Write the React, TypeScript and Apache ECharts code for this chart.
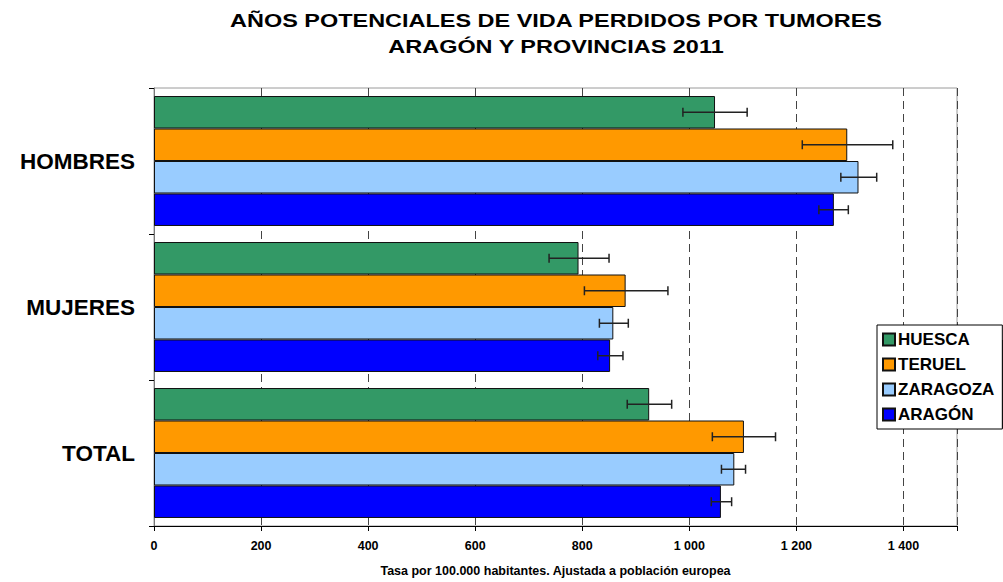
import React, { useEffect, useRef } from "react";
import * as echarts from "echarts";

const categories = ["HOMBRES", "MUJERES", "TOTAL"];
const seriesNames = ["HUESCA", "TERUEL", "ZARAGOZA", "ARAGÓN"];
const seriesColors = ["#339966", "#FF9900", "#99CCFF", "#0000FF"];

const huesca = [1048, 793, 925];
const teruel = [1295, 881, 1102];
const zaragoza = [1316, 858, 1084];
const aragon = [1270, 852, 1059];

const huescaLow = [988, 738, 884];
const huescaHigh = [1108, 850, 967];
const teruelLow = [1211, 804, 1043];
const teruelHigh = [1380, 960, 1161];
const zaragozaLow = [1283, 832, 1060];
const zaragozaHigh = [1350, 886, 1105];
const aragonLow = [1242, 829, 1041];
const aragonHigh = [1297, 876, 1079];

const xTicks = [0, 200, 400, 600, 800, 1000, 1200, 1400];

const titleLines = [
  "AÑOS POTENCIALES DE VIDA PERDIDOS POR TUMORES",
  "ARAGÓN Y PROVINCIAS 2011",
];
const axisName = "Tasa por 100.000 habitantes. Ajustada a población europea";

const GAP = 0.11;
const FONT = "Arial, 'Liberation Sans', sans-serif";

export default function App() {
  const ref = useRef<HTMLDivElement>(null);
  useEffect(() => {
    if (!ref.current) return;
    const chart = echarts.init(ref.current, null, { renderer: "svg" });
    const values = [huesca, teruel, zaragoza, aragon];
    const lows = [huescaLow, teruelLow, zaragozaLow, aragonLow];
    const highs = [huescaHigh, teruelHigh, zaragozaHigh, aragonHigh];

    const errData: number[][] = [];
    for (let s = 0; s < 4; s++) {
      for (let c = 0; c < categories.length; c++) {
        errData.push([c, lows[s][c], highs[s][c], s]);
      }
    }

    const fmt = (v: number) => {
      if (!xTicks.includes(v)) return "";
      return v >= 1000
        ? Math.floor(v / 1000) + " " + String(v % 1000).padStart(3, "0")
        : String(v);
    };

    const titleStyle = {
      textAlign: "center",
      textVerticalAlign: "middle",
      fontSize: 17.5,
      fontWeight: "bold",
      fill: "#000",
      fontFamily: FONT,
    };

    const option: any = {
      animation: false,
      backgroundColor: "#ffffff",
      textStyle: { fontFamily: FONT },
      grid: {
        left: 154,
        right: 46,
        top: 88,
        bottom: 54,
        show: true,
        borderColor: "#9a9a9a",
        borderWidth: 1,
        backgroundColor: "transparent",
      },
      legend: {
        orient: "vertical",
        left: 877,
        top: 325,
        padding: [6, 8, 6, 5],
        itemGap: 8,
        itemWidth: 12,
        itemHeight: 12,
        icon: "rect",
        backgroundColor: "#ffffff",
        borderColor: "#000000",
        borderWidth: 1,
        textStyle: {
          fontSize: 17,
          fontWeight: "bold",
          color: "#000",
          fontFamily: FONT,
          padding: [0, 0, 0, -2],
        },
        data: seriesNames,
      },
      graphic: [
        {
          type: "rect",
          shape: { x: 880, y: 340, width: 125, height: 88 },
          style: { fill: "#000000" },
          z: 0,
        },
        {
          type: "text",
          x: 556,
          y: 21,
          scaleX: 1.34,
          style: { ...titleStyle, text: titleLines[0] },
        },
        {
          type: "text",
          x: 556,
          y: 47,
          scaleX: 1.34,
          style: { ...titleStyle, text: titleLines[1] },
        },
      ],
      xAxis: {
        type: "value",
        min: 0,
        max: 1500,
        interval: 200,
        name: axisName,
        nameLocation: "middle",
        nameGap: 38,
        nameTextStyle: { fontSize: 12.5, fontWeight: "bold", color: "#000" },
        axisLine: { show: true, lineStyle: { color: "#000", width: 1 } },
        axisTick: { show: true, length: 5, lineStyle: { color: "#000" } },
        axisLabel: {
          fontSize: 12.5,
          fontWeight: "bold",
          color: "#000",
          margin: 13,
          formatter: fmt,
        },
        splitLine: {
          show: true,
          lineStyle: { color: "#444", type: [8, 5], width: 1 },
        },
      },
      yAxis: {
        type: "category",
        data: categories,
        inverse: true,
        axisLine: { show: true, lineStyle: { color: "#777", width: 1 } },
        axisTick: { show: true, length: 5, lineStyle: { color: "#000" } },
        axisLabel: {
          fontSize: 22.5,
          fontWeight: "bold",
          color: "#000",
          margin: 19,
        },
        splitLine: { show: false },
      },
      series: [
        ...seriesNames.map((name, i) => ({
          name,
          type: "bar",
          data: values[i],
          barGap: "0%",
          barCategoryGap: GAP * 100 + "%",
          itemStyle: {
            color: seriesColors[i],
            borderColor: "#111",
            borderWidth: 1,
          },
          z: 2,
        })),
        {
          type: "custom",
          name: "err",
          data: errData,
          z: 5,
          silent: true,
          renderItem: (params: any, api: any) => {
            const c = api.value(0);
            const lo = api.value(1);
            const hi = api.value(2);
            const s = api.value(3);
            const p1 = api.coord([lo, c]);
            const p2 = api.coord([hi, c]);
            const band = api.size([0, 1])[1];
            const total = band * (1 - GAP);
            const bw = total / 4;
            const y = p1[1] - total / 2 + bw * (s + 0.5);
            const h = 4.5;
            const st = { stroke: "#222", lineWidth: 1.5 };
            return {
              type: "group",
              children: [
                { type: "line", shape: { x1: p1[0], y1: y, x2: p2[0], y2: y }, style: st },
                { type: "line", shape: { x1: p1[0], y1: y - h, x2: p1[0], y2: y + h }, style: st },
                { type: "line", shape: { x1: p2[0], y1: y - h, x2: p2[0], y2: y + h }, style: st },
              ],
            };
          },
        },
      ],
    };
    chart.setOption(option);
    return () => chart.dispose();
  }, []);
  return (
    <div
      ref={ref}
      style={{ position: "fixed", left: 0, top: 0, width: 1003, height: 582 }}
    />
  );
}
